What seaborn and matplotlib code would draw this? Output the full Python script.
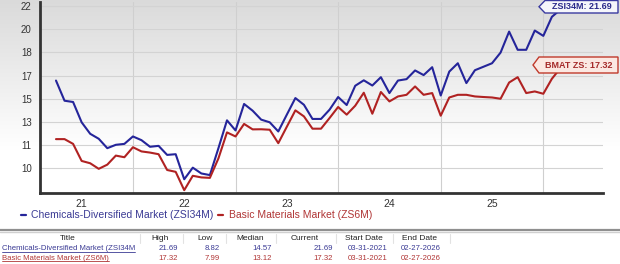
import numpy as np
import pandas as pd
import matplotlib
matplotlib.use("Agg")
import matplotlib.pyplot as plt
import seaborn as sns
from matplotlib.lines import Line2D
from matplotlib.patches import Polygon
from matplotlib.ticker import NullLocator, FixedLocator

# ---------------- data ----------------
months = pd.date_range("2021-03-31", periods=60, freq="ME").strftime("%Y-%m").tolist()

chem_div = [16.57, 14.83, 14.72, 12.97, 11.98, 11.55, 10.87, 11.03, 11.11, 11.75,
            11.43, 10.93, 10.97, 10.58, 10.61, 9.53, 10.03, 9.78, 9.71, 10.87,
            13.14, 12.27, 14.55, 13.97, 13.20, 12.97, 12.18, 13.63, 15.06, 14.48,
            13.26, 13.26, 14.06, 15.15, 14.46, 16.12, 16.59, 16.14, 16.86, 15.49,
            16.57, 16.69, 17.22, 17.02, 17.36, 15.28, 17.17, 17.53, 16.35, 17.23,
            17.38, 17.53, 17.99, 19.79, 18.22, 18.22, 19.88, 19.42, 21.06, 21.69]

basic_mat = [11.52, 11.52, 11.11, 10.32, 10.22, 9.98, 10.16, 10.55, 10.48, 10.91,
             10.73, 10.68, 10.61, 9.93, 9.85, 9.06, 9.68, 9.61, 9.59, 10.43,
             12.10, 11.75, 12.83, 12.36, 12.37, 12.33, 11.17, 12.59, 14.00, 13.48,
             12.42, 12.42, 13.34, 14.29, 13.63, 14.40, 15.52, 13.71, 15.58, 14.77,
             15.20, 15.34, 16.06, 15.34, 15.49, 13.54, 15.11, 15.34, 15.34, 15.20,
             15.15, 15.11, 15.00, 16.40, 16.86, 15.49, 15.63, 15.43, 16.72, 17.32]

series_names = ["Chemicals-Diversified Market (ZSI34M)", "Basic Materials Market (ZS6M)"]
y_tick_values = [10, 11, 13, 15, 17, 18, 20, 22]
y_tick_labels = ["10", "11", "13", "15", "17", "18", "20", "22"]
x_labels = ["21", "22", "23", "24", "25"]
x_label_months = ["2021-06", "2022-06", "2023-06", "2024-06", "2025-06"]
x_grid_months = ["2021-12", "2022-12", "2023-12", "2024-12", "2025-12"]

end_labels = ["ZSI34M: 21.69", "BMAT ZS: 17.32"]

table_header = ["Title", "High", "Low", "Median", "Current", "Start Date", "End Date"]
table_rows = [
    ["Chemicals-Diversified Market (ZSI34M", "21.69", "8.82", "14.57", "21.69", "03-31-2021", "02-27-2026"],
    ["Basic Materials Market (ZS6M)", "17.32", "7.99", "13.12", "17.32", "03-31-2021", "02-27-2026"],
]

BLUE = "#25259a"
RED = "#b02222"
BLUE_TXT = "#3a3a94"
RED_TXT = "#b03535"

# ---------------- style ----------------
sns.set_style("white")
plt.rcParams["font.family"] = ["Liberation Sans", "DejaVu Sans"]

W, H = 620, 264
fig = plt.figure(figsize=(W / 100, H / 100), dpi=100)


def fx(x):
    return x / W


def fy(y):
    return 1 - y / H


# background gradient (top grey -> white)
bg = fig.add_axes([0, fy(150), 1, 150 / H], zorder=-5)
g = np.linspace(0.855, 1.0, 256)[:, None] * np.ones((1, 4))
bg.imshow(np.dstack([g, g, g]), aspect="auto", extent=[0, 1, 0, 1])
bg.axis("off")

# ---------------- custom y scale (equally spaced tick values) ----------------
tv = np.array(y_tick_values, float)
tp = np.arange(len(tv), dtype=float)


def fwd(v):
    v = np.asarray(v, float)
    out = np.interp(v, tv, tp)
    out = np.where(v < tv[0], v - tv[0], out)
    out = np.where(v > tv[-1], tp[-1] + (v - tv[-1]) / 2.0, out)
    return out


def inv(p):
    p = np.asarray(p, float)
    out = np.interp(p, tp, tv)
    out = np.where(p < 0, tv[0] + p, out)
    out = np.where(p > tp[-1], tv[-1] + (p - tp[-1]) * 2.0, out)
    return out


ax = fig.add_axes([fx(40), fy(193), (603 - 40) / W, (193 - 2) / H])
ax.patch.set_alpha(0)
ax.set_yscale("function", functions=(fwd, inv))

idx = np.arange(len(months))
df = pd.DataFrame({
    "idx": np.concatenate([idx, idx]),
    "value": chem_div + basic_mat,
    "series": [series_names[0]] * len(months) + [series_names[1]] * len(months),
})
sns.lineplot(data=df, x="idx", y="value", hue="series",
             palette={series_names[0]: BLUE, series_names[1]: RED},
             linewidth=1.5, legend=False, ax=ax, zorder=3)

ax.set_xlim(-1.87, 63.98)
ax.set_ylim(inv(-1.062), inv(7.17))

ax.yaxis.set_major_locator(FixedLocator(y_tick_values))
ax.set_yticklabels(y_tick_labels)
ax.yaxis.set_minor_locator(NullLocator())
ax.tick_params(axis="y", length=4, width=1, color="#333333", labelsize=7,
               labelcolor="#333333", pad=2)
ax.grid(axis="y", color="#d3d3d3", lw=0.8)

grid_pos = [months.index(m) for m in x_grid_months]
lab_pos = [months.index(m) for m in x_label_months]
ax.set_xticks(grid_pos)
ax.set_xticklabels([""] * len(grid_pos))
ax.set_xticks(lab_pos, minor=True)
ax.set_xticklabels(x_labels, minor=True)
ax.tick_params(axis="x", which="both", length=0, labelsize=7.5, labelcolor="#333333", pad=4)
ax.grid(axis="x", which="major", color="#cfcfcf", lw=0.8)
ax.set_xlabel("")
ax.set_ylabel("")

for s in ["top", "right"]:
    ax.spines[s].set_visible(False)
for s in ["left", "bottom"]:
    ax.spines[s].set_color("#333333")
    ax.spines[s].set_linewidth(2)

# ---------------- end-value tags ----------------
def tag(tip_x, y_top, y_bot, right, text, fc, ec, tc):
    cy = (y_top + y_bot) / 2
    pts = [(tip_x, cy), (tip_x + 6, y_top), (right, y_top), (right, y_bot), (tip_x + 6, y_bot)]
    poly = Polygon([(fx(a), fy(b)) for a, b in pts], closed=True, transform=fig.transFigure,
                   facecolor=fc, edgecolor=ec, linewidth=1, zorder=10)
    fig.patches.append(poly)
    fig.text(fx((tip_x + 6 + right) / 2), fy(cy), text, ha="center", va="center",
             fontsize=6.5, fontweight="bold", color=tc, zorder=11)


tag(539, 0.5, 13, 618, end_labels[0], "#f5f6fb", "#3a3aa0", "#2a2a8a")
tag(533, 57, 73, 618, end_labels[1], "#fbe8e2", "#c0392b", "#a52a2a")

# ---------------- legend ----------------
fig.lines.append(Line2D([fx(21), fx(26)], [fy(215), fy(215)], color=BLUE, lw=1.6,
                        transform=fig.transFigure))
fig.text(fx(31), fy(215), series_names[0], color=BLUE_TXT, fontsize=7.5, va="center", ha="left")
fig.lines.append(Line2D([fx(218), fx(223)], [fy(215), fy(215)], color=RED, lw=1.6,
                        transform=fig.transFigure))
fig.text(fx(229), fy(215), series_names[1], color=RED_TXT, fontsize=7.5, va="center", ha="left")

# ---------------- separator rule ----------------
fig.lines.append(Line2D([0, 1], [fy(229.5), fy(229.5)], color="#8f8f8f", lw=1.6,
                        transform=fig.transFigure))
fig.lines.append(Line2D([0, 1], [fy(231.5), fy(231.5)], color="#d0d0d0", lw=1.0,
                        transform=fig.transFigure))

# ---------------- table ----------------
hdr_x = [68, 160, 205, 250, 305, 364, 420]
for h, x in zip(table_header, hdr_x):
    fig.text(fx(x), fy(238.5), h, ha="center", va="center", fontsize=6, color="#222222")
for sx in [140, 183, 226, 276, 336, 393, 450]:
    fig.lines.append(Line2D([fx(sx), fx(sx)], [fy(234), fy(243)], color="#e2e2e2", lw=0.8,
                            transform=fig.transFigure))

val_x = [(2, "left"), (178, "right"), (220, "right"), (272, "right"), (333, "right"),
         (368, "center"), (421, "center")]
row_y = [248.5, 258]
row_col = [BLUE_TXT, RED_TXT]
title_texts = []
for r, yy, c in zip(table_rows, row_y, row_col):
    for j, (v, (x, ha)) in enumerate(zip(r, val_x)):
        t = fig.text(fx(x), fy(yy), v, ha=ha, va="center", fontsize=5.6, color=c)
        if j == 0:
            title_texts.append((t, c))

fig.canvas.draw()
for t, c in title_texts:
    bb = t.get_window_extent()
    y0 = bb.y0 + 0.5
    fig.lines.append(Line2D([bb.x0 / W, bb.x1 / W], [y0 / H, y0 / H], color=c, lw=0.6,
                            transform=fig.transFigure))

fig.savefig("out.png", dpi=100)
